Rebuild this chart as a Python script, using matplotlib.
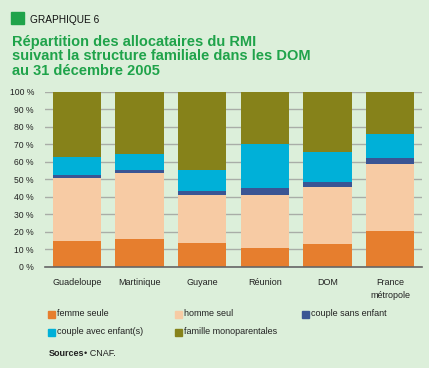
import numpy as np
import matplotlib
matplotlib.use("Agg")
import matplotlib.pyplot as plt
from matplotlib.patches import Rectangle

plt.rcParams['font.family'] = ['Liberation Sans', 'DejaVu Sans']

# Data (shares in %)
categories = ["Guadeloupe", "Martinique", "Guyane", "Réunion", "DOM", "France\nmétropole"]
series_names = ["femme seule", "homme seul", "couple sans enfant",
                "couple avec enfant(s)", "famille monoparentales"]
femme_seule = [14.6, 16.1, 13.5, 11.0, 13.1, 20.3]
homme_seul = [35.9, 37.6, 27.3, 29.8, 32.8, 38.3]
couple_sans = [2.1, 1.9, 2.3, 4.0, 2.7, 3.6]
couple_avec = [10.4, 8.7, 12.1, 25.2, 17.2, 13.5]
famille_mono = [37.0, 35.7, 44.8, 30.0, 34.2, 24.3]
colors = ["#e67e2e", "#f7cba4", "#3a5594", "#00b0d8", "#86821a"]

bg = "#dcefda"
green = "#1fa34a"

fig = plt.figure(figsize=(4.29, 3.68), dpi=100, facecolor=bg)
ax = fig.add_axes([45 / 429, 1 - 267 / 368, 377 / 429, (267 - 91.7) / 368])
ax.set_facecolor(bg)

x = np.arange(len(categories))
bottom = np.zeros(len(categories))
for vals, col in zip([femme_seule, homme_seul, couple_sans, couple_avec, famille_mono], colors):
    ax.bar(x, vals, width=0.77, bottom=bottom, color=col, zorder=3)
    bottom += np.array(vals)

ax.set_xlim(-0.51, 5.51)
ax.set_ylim(0, 100)
ax.set_yticks(range(0, 101, 10))
ax.set_yticklabels([f"{v} %" for v in range(0, 101, 10)], fontsize=6.2, color="#222222")
ax.yaxis.grid(True, color="#a9ada7", lw=1, zorder=0)
ax.tick_params(axis="y", length=0, pad=8)
ax.tick_params(axis="x", length=0, pad=8)
ax.set_xticks(x)
ax.set_xticklabels(categories, fontsize=6.5, color="#222222", linespacing=1.6, va="top")
for s in ["top", "left", "right"]:
    ax.spines[s].set_visible(False)
ax.spines["bottom"].set_color("#666666")
ax.spines["bottom"].set_linewidth(1.2)
ax.spines["bottom"].set_zorder(4)

# Header
fig.patches.append(Rectangle((11 / 429, 1 - 24 / 368), 13 / 429, 12 / 368,
                             transform=fig.transFigure, color=green))
fig.text(30 / 429, 1 - 22.7 / 368, "GRAPHIQUE 6", fontsize=7.3, color="#111111", va="baseline")
title = ["Répartition des allocataires du RMI",
         "suivant la structure familiale dans les DOM",
         "au 31 décembre 2005"]
for i, line in enumerate(title):
    fig.text(12 / 429, 1 - (45.7 + 14.8 * i) / 368, line, fontsize=10.5,
             fontweight="bold", color=green, va="baseline")

# Legend
leg_pos = [(48, 314), (175, 314), (302, 314), (48, 332), (175, 332)]
for name, col, (lx, ly) in zip(series_names, colors, leg_pos):
    fig.patches.append(Rectangle((lx / 429, 1 - (ly + 3.5) / 368), 7 / 429, 7 / 368,
                                 transform=fig.transFigure, color=col))
    fig.text((lx + 9) / 429, 1 - ly / 368, name, fontsize=6.5, color="#222222", va="center")

# Sources
fig.text(49 / 429, 1 - 353 / 368, "Sources", fontsize=6.5, fontweight="bold",
         color="#222222", va="center")
fig.text(84 / 429, 1 - 353 / 368, "• CNAF.", fontsize=6.5, color="#222222", va="center")

fig.savefig("out.png", dpi=100, facecolor=bg)
